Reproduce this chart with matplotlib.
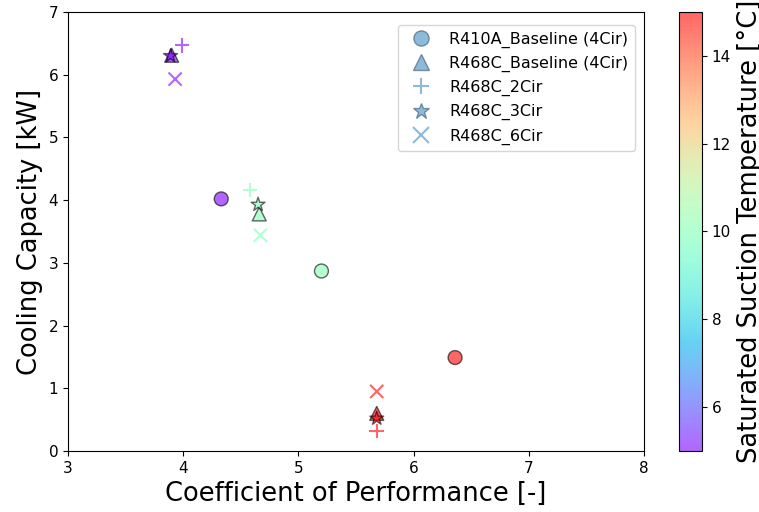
import numpy as np
import matplotlib.pyplot as plt
from matplotlib.lines import Line2D

# saturated suction temperature for each of the three test points
tsat = [5, 10, 15]

r410a_cop = [4.33, 5.20, 6.36]
r410a_cap = [4.02, 2.87, 1.49]

r468c_base_cop = [3.90, 4.66, 5.68]
r468c_base_cap = [6.31, 3.78, 0.60]

r468c_2cir_cop = [3.99, 4.58, 5.68]
r468c_2cir_cap = [6.47, 4.16, 0.32]

r468c_3cir_cop = [3.89, 4.65, 5.68]
r468c_3cir_cap = [6.30, 3.93, 0.52]

r468c_6cir_cop = [3.93, 4.67, 5.68]
r468c_6cir_cap = [5.93, 3.44, 0.95]

labels = ['R410A_Baseline (4Cir)', 'R468C_Baseline (4Cir)', 'R468C_2Cir',
          'R468C_3Cir', 'R468C_6Cir']

plt.rcParams['xtick.labelsize'] = 11
plt.rcParams['ytick.labelsize'] = 11

fig = plt.figure(figsize=(7.59, 5.12), dpi=100)
ax = fig.add_axes([68/759, 61/512, 576/759, 439/512])
cax = fig.add_axes([679/759, 61/512, 23/759, 439/512])

kw = dict(cmap='rainbow', vmin=5, vmax=15, alpha=0.6)
sc = ax.scatter(r410a_cop, r410a_cap, c=tsat, marker='o', s=100, edgecolors='k', **kw)
ax.scatter(r468c_base_cop, r468c_base_cap, c=tsat, marker='^', s=100, edgecolors='k', **kw)
ax.scatter(r468c_2cir_cop, r468c_2cir_cap, c=tsat, marker='+', s=110, **kw)
ax.scatter(r468c_3cir_cop, r468c_3cir_cap, c=tsat, marker='*', s=110, edgecolors='k', **kw)
ax.scatter(r468c_6cir_cop, r468c_6cir_cap, c=tsat, marker='x', s=90, **kw)

ax.set_xlim(3, 8)
ax.set_ylim(0, 7)
ax.set_xticks(np.arange(3, 9, 1))
ax.set_yticks(np.arange(0, 8, 1))
ax.set_xlabel('Coefficient of Performance [-]', fontsize=18.5)
ax.set_ylabel('Cooling Capacity [kW]', fontsize=18.5)

mk = ['o', '^', '+', '*', 'x']
handles = []
for m, lab in zip(mk, labels):
    filled = m in ('o', '^', '*')
    handles.append(Line2D([], [], ls='', marker=m, markersize=11 if m != '*' else 12,
                          markerfacecolor='C0', color='C0', alpha=0.5,
                          markeredgecolor='#1f3f60' if filled else 'C0',
                          markeredgewidth=1 if filled else 1.5, label=lab))
ax.legend(handles=handles, loc='upper right', fontsize=11.5,
          bbox_to_anchor=(0.998, 0.988))

cb = fig.colorbar(sc, cax=cax)
cb.set_label('Saturated Suction Temperature [°C]', fontsize=18.5)
cb.set_ticks([6, 8, 10, 12, 14])

fig.savefig('out.png', dpi=100)
